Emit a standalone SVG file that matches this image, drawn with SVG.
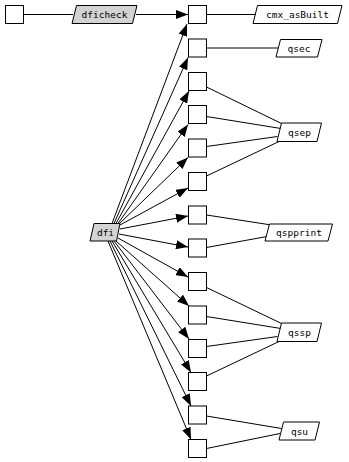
<svg xmlns="http://www.w3.org/2000/svg" width="349" height="462" viewBox="0 0 349 462">
<style>
  .box{fill:#fff;stroke:#000;stroke-width:1}
  .lbl{fill:#fff;stroke:#000;stroke-width:1}
  .grey{fill:#d3d3d3}
  .t{font-family:"DejaVu Sans Mono","Liberation Mono",monospace;font-size:9.5px;text-anchor:middle;dominant-baseline:central;fill:#000}
  .e{stroke:#000;stroke-width:1;fill:none}
  .a{marker-end:url(#arr)}
</style>
<defs>
  <marker id="arr" markerUnits="userSpaceOnUse" markerWidth="12" markerHeight="9" refX="12" refY="4.5" orient="auto">
    <path d="M0,0 L12,4.5 L0,9 z" fill="#000"/>
  </marker>
</defs>
<rect width="349" height="462" fill="#fff"/>
<g id="connectors">
  <line class="e" x1="24" y1="14.5" x2="73" y2="14.5"/>
  <line class="e a" x1="136" y1="14.5" x2="188" y2="14.5"/>
  <line class="e a" x1="112" y1="223.5" x2="187" y2="24"/>
  <line class="e a" x1="114" y1="223.5" x2="188" y2="57.5"/>
  <line class="e a" x1="116" y1="223.5" x2="189" y2="91"/>
  <line class="e a" x1="118" y1="223.5" x2="188" y2="124.5"/>
  <line class="e a" x1="119" y1="224" x2="188" y2="157.5"/>
  <line class="e a" x1="120" y1="225" x2="188" y2="188"/>
  <line class="e a" x1="120" y1="229" x2="188" y2="216"/>
  <line class="e a" x1="119" y1="234" x2="188" y2="247"/>
  <line class="e a" x1="118" y1="238" x2="188" y2="277"/>
  <line class="e a" x1="116" y1="241" x2="189" y2="306"/>
  <line class="e a" x1="114" y1="241" x2="189" y2="339"/>
  <line class="e a" x1="112" y1="241" x2="191" y2="372.5"/>
  <line class="e a" x1="110" y1="241" x2="191" y2="406"/>
  <line class="e a" x1="108" y1="241" x2="191" y2="439.5"/>
  <line class="e" x1="206.5" y1="14.5" x2="256" y2="14.5"/>
  <line class="e" x1="206.5" y1="48" x2="278" y2="48"/>
  <line class="e" x1="206.5" y1="87" x2="281.5" y2="123.5"/>
  <line class="e" x1="206.5" y1="116.5" x2="281" y2="128.5"/>
  <line class="e" x1="206.5" y1="146.5" x2="277.5" y2="136.5"/>
  <line class="e" x1="206.5" y1="176" x2="279" y2="141.5"/>
  <line class="e" x1="206.5" y1="215" x2="271.5" y2="225"/>
  <line class="e" x1="206.5" y1="247.5" x2="267" y2="236.5"/>
  <line class="e" x1="206.5" y1="287.5" x2="281.5" y2="323.5"/>
  <line class="e" x1="206.5" y1="316.5" x2="281" y2="328.5"/>
  <line class="e" x1="206.5" y1="346.5" x2="277.5" y2="336.5"/>
  <line class="e" x1="206.5" y1="376" x2="279" y2="341.5"/>
  <line class="e" x1="206.5" y1="416" x2="281.5" y2="428.5"/>
  <line class="e" x1="206.5" y1="448.5" x2="280" y2="433.5"/>
</g>
<g id="start"><rect class="box" x="5.5" y="5.5" width="18" height="18"/></g>
<g id="dficheck"><polygon class="lbl grey" stroke="#000" points="76.5,5.5 137,5.5 132.5,23.5 72,23.5"/><text class="t" x="104.5" y="14.5">dficheck</text></g>
<g id="dfi"><polygon class="lbl grey" points="94,223.5 120,223.5 116.5,241 90,241"/><text class="t" x="105.5" y="232.5">dfi</text></g>
<g id="b0"><rect class="box" x="188.5" y="5.5" width="18" height="18"/></g>
<g id="b1"><rect class="box" x="188.5" y="39" width="18" height="18"/></g>
<g id="b2"><rect class="box" x="188.5" y="72.5" width="18" height="18"/></g>
<g id="b3"><rect class="box" x="188.5" y="105.5" width="18" height="18"/></g>
<g id="b4"><rect class="box" x="188.5" y="139" width="18" height="18"/></g>
<g id="b5"><rect class="box" x="188.5" y="172.5" width="18" height="18"/></g>
<g id="b6"><rect class="box" x="188.5" y="206" width="18" height="18"/></g>
<g id="b7"><rect class="box" x="188.5" y="239" width="18" height="18"/></g>
<g id="b8"><rect class="box" x="188.5" y="272.5" width="18" height="18"/></g>
<g id="b9"><rect class="box" x="188.5" y="306" width="18" height="18"/></g>
<g id="b10"><rect class="box" x="188.5" y="339.5" width="18" height="18"/></g>
<g id="b11"><rect class="box" x="188.5" y="372.5" width="18" height="18"/></g>
<g id="b12"><rect class="box" x="188.5" y="406" width="18" height="18"/></g>
<g id="b13"><rect class="box" x="188.5" y="439.5" width="18" height="18"/></g>
<g id="cmx_asBuilt"><polygon class="lbl" points="257.5,5.5 342,5.5 337.5,23.5 253,23.5"/><text class="t" x="297.5" y="14.5">cmx_asBuilt</text></g>
<g id="qsec"><polygon class="lbl" points="280.5,39.5 322,39.5 317.5,57 276,57"/><text class="t" x="299" y="48.5">qsec</text></g>
<g id="qsep"><polygon class="lbl" points="281.5,123 321.5,123 317,141.5 277,141.5"/><text class="t" x="299.5" y="132.5">qsep</text></g>
<g id="qspprint"><polygon class="lbl" points="269.5,224 332.5,224 328,241 265,241"/><text class="t" x="299" y="232.5">qspprint</text></g>
<g id="qssp"><polygon class="lbl" points="281.5,323 321.5,323 317,341.5 277,341.5"/><text class="t" x="299.5" y="332.5">qssp</text></g>
<g id="qsu"><polygon class="lbl" points="283.5,422 319.5,422 315,440 279,440"/><text class="t" x="299.5" y="431">qsu</text></g>
</svg>
